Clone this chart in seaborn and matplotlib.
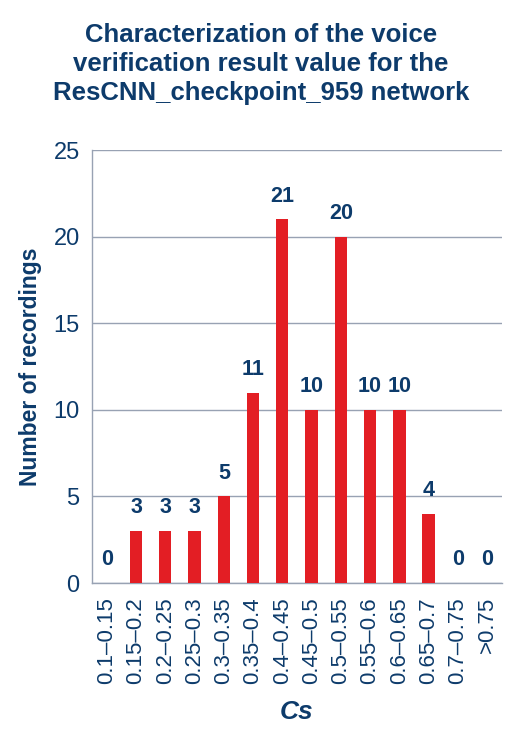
import matplotlib
matplotlib.use("Agg")
import matplotlib.pyplot as plt
import numpy as np
import pandas as pd
import seaborn as sns

# Data
CATEGORIES = ["0.1–0.15", "0.15–0.2", "0.2–0.25", "0.25–0.3", "0.3–0.35",
              "0.35–0.4", "0.4–0.45", "0.45–0.5", "0.5–0.55", "0.55–0.6",
              "0.6–0.65", "0.65–0.7", "0.7–0.75", ">0.75"]
COUNTS = [0, 3, 3, 3, 5, 11, 21, 10, 20, 10, 10, 4, 0, 0]

TITLE = ("Characterization of the voice\nverification result value for the\n"
         "ResCNN_checkpoint_959 network")
BAR_COLOR = "#E31E24"
TEXT_COLOR = "#0D3B6B"
GRID_COLOR = "#98A2B3"

sns.set_style("white")
plt.rcParams["font.family"] = ["Liberation Sans", "DejaVu Sans"]

df = pd.DataFrame({"range": CATEGORIES, "count": COUNTS})

fig = plt.figure(figsize=(5.12, 7.33), dpi=100)
ax = fig.add_axes([0.18, 0.2046, 0.80, 0.5906])

sns.barplot(data=df, x="range", y="count", color=BAR_COLOR, saturation=1,
            width=0.42, linewidth=0, ax=ax, zorder=3)

ax.set_ylim(0, 25)
ax.set_xlim(-0.5, len(CATEGORIES) - 0.5)
ax.set_yticks(np.arange(0, 26, 5))
ax.yaxis.grid(True, color=GRID_COLOR, linewidth=1.0, zorder=0)
ax.set_axisbelow(True)

for spine in ["top", "right"]:
    ax.spines[spine].set_visible(False)
for spine in ["left", "bottom"]:
    ax.spines[spine].set_color(GRID_COLOR)
    ax.spines[spine].set_linewidth(1.0)

# ticks between categories on the x axis
ax.set_xticks(np.arange(len(CATEGORIES)))
ax.set_xticklabels(CATEGORIES, rotation=90, fontsize=16, color=TEXT_COLOR)
ax.set_xticks(np.arange(-0.5, len(CATEGORIES)), minor=True)
ax.tick_params(axis="x", which="major", length=0, pad=10)
ax.tick_params(axis="x", which="minor", length=5, color=GRID_COLOR, width=1)
ax.tick_params(axis="y", length=5, color=GRID_COLOR, width=1,
               labelsize=17, labelcolor=TEXT_COLOR, pad=4)

for i, v in enumerate(COUNTS):
    ax.text(i, v + 1.35, str(v), ha="center", va="center", fontsize=15.5,
            fontweight="bold", color=TEXT_COLOR)

ax.set_xlabel("Cs", fontsize=19, fontweight="bold", fontstyle="italic",
              color=TEXT_COLOR, labelpad=12)
ax.set_ylabel("Number of recordings", fontsize=16.5, fontweight="bold",
              color=TEXT_COLOR, labelpad=8)

fig.suptitle(TITLE, x=0.51, y=0.968, fontsize=18.5, fontweight="bold",
             color=TEXT_COLOR, linespacing=1.25, va="top")

fig.savefig("out.png", dpi=100)
